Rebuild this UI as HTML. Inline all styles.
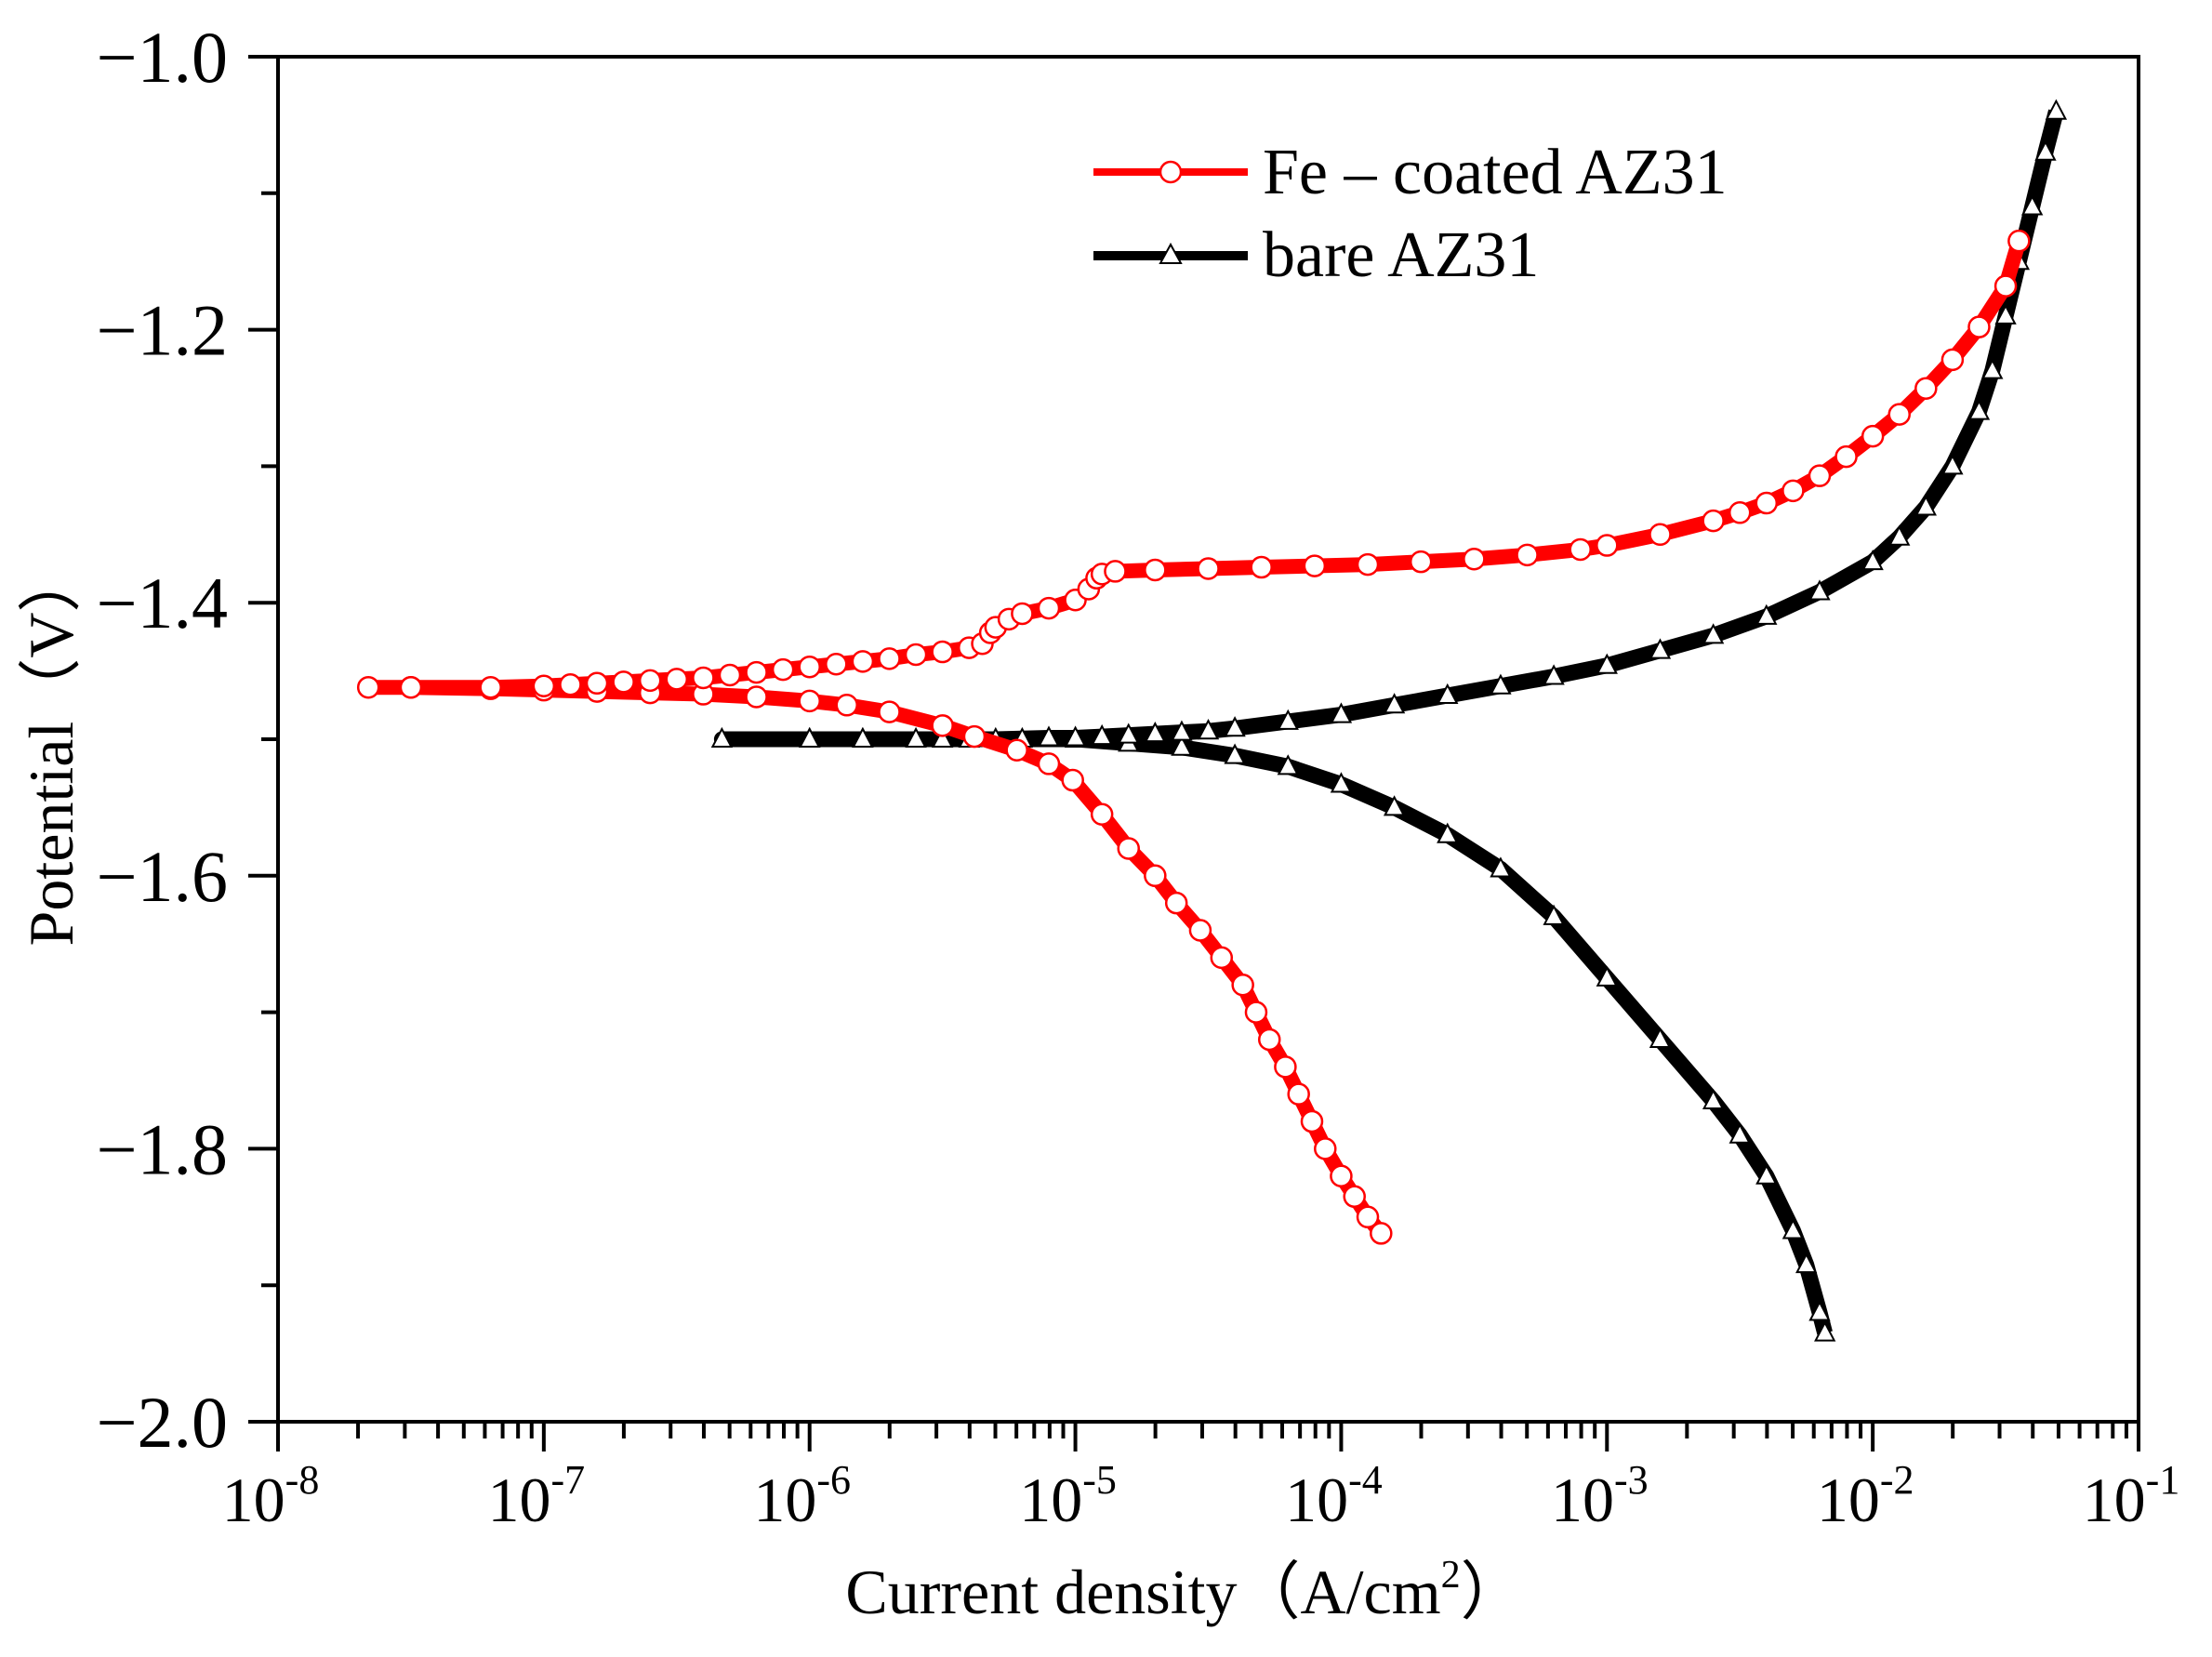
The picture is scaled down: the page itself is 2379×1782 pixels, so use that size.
<!DOCTYPE html>
<html><head><meta charset="utf-8"><style>
html,body{margin:0;padding:0;background:#fff}
svg{display:block;font-family:"Liberation Serif",serif}
</style></head><body>
<svg id="chart" width="2379" height="1782" viewBox="0 0 2379 1782" xmlns="http://www.w3.org/2000/svg">
<g id="axes"></g>
<g id="series"></g>
<g>
 <line x1="1176" y1="185" x2="1342" y2="185" stroke="#ff0000" stroke-width="8"/>
 <circle cx="1259" cy="185" r="11" fill="#fff" stroke="#ff0000" stroke-width="2.5"/>
 <text x="1358" y="208" font-size="70">Fe – coated AZ31</text>
 <line x1="1176" y1="275" x2="1342" y2="275" stroke="#000" stroke-width="10"/>
 <polygon points="1259,263 1248,283 1270,283" fill="#fff" stroke="#000" stroke-width="2"/>
 <text x="1358" y="297" font-size="70">bare AZ31</text>
</g>
<text x="1274" y="1735" font-size="68" text-anchor="middle">Current density（A/cm<tspan dy="-28" font-size="42">2</tspan><tspan dy="28">）</tspan></text>
<text transform="translate(78,804) rotate(-90)" font-size="68" text-anchor="middle">Potential（V）</text>
</svg>
<script>
// Fe-coated AZ31: [log10(current), potential]
const feLogI = [-3.85,-3.9,-3.95,-4.0,-4.06,-4.11,-4.16,-4.21,-4.27,-4.32,-4.37,-4.45,-4.53,-4.62,-4.7,-4.8,-4.9,-5.01,-5.1,-5.22,-5.38,-5.5,-5.7,-5.86,-6.0,-6.2,-6.4,-6.6,-6.8,-7.0,-7.2,-7.5,-7.66,
 -7.5,-7.2,-7.0,-6.9,-6.8,-6.7,-6.6,-6.5,-6.4,-6.3,-6.2,-6.1,-6.0,-5.9,-5.8,-5.7,-5.6,-5.5,-5.4,-5.35,-5.32,-5.3,-5.25,-5.2,-5.1,-5.0,-4.95,-4.92,-4.9,-4.85,-4.7,-4.5,-4.3,-4.1,-3.9,-3.7,-3.5,-3.3,-3.1,-3.0,-2.8,-2.6,-2.5,-2.4,-2.3,-2.2,-2.1,-2.0,-1.9,-1.8,-1.7,-1.6,-1.5,-1.45];
const feV = [-1.862,-1.85,-1.835,-1.82,-1.80,-1.78,-1.76,-1.74,-1.72,-1.70,-1.68,-1.66,-1.64,-1.62,-1.60,-1.58,-1.555,-1.53,-1.518,-1.508,-1.498,-1.49,-1.48,-1.475,-1.472,-1.469,-1.467,-1.466,-1.465,-1.464,-1.463,-1.462,-1.462,
 -1.462,-1.462,-1.461,-1.46,-1.459,-1.458,-1.457,-1.456,-1.455,-1.453,-1.451,-1.449,-1.447,-1.445,-1.443,-1.441,-1.438,-1.436,-1.433,-1.43,-1.422,-1.418,-1.412,-1.408,-1.404,-1.398,-1.39,-1.382,-1.379,-1.377,-1.376,-1.375,-1.374,-1.373,-1.372,-1.37,-1.368,-1.365,-1.361,-1.358,-1.35,-1.34,-1.334,-1.327,-1.318,-1.307,-1.293,-1.278,-1.262,-1.243,-1.222,-1.198,-1.168,-1.135,-1.115];
// bare AZ31
const bareLogI = [-2.18,-2.2,-2.25,-2.3,-2.4,-2.5,-2.6,-2.8,-3.0,-3.2,-3.4,-3.6,-3.8,-4.0,-4.2,-4.4,-4.6,-4.8,-5.0,-5.2,-5.4,-5.6,-5.8,-6.0,-6.33,
 -6.0,-5.8,-5.5,-5.3,-5.1,-5.0,-4.9,-4.8,-4.7,-4.6,-4.5,-4.4,-4.2,-4.0,-3.8,-3.6,-3.4,-3.2,-3.0,-2.8,-2.6,-2.4,-2.2,-2.0,-1.9,-1.8,-1.7,-1.6,-1.55,-1.5,-1.45,-1.4,-1.35,-1.31];
const bareV = [-1.935,-1.92,-1.885,-1.86,-1.82,-1.79,-1.765,-1.72,-1.675,-1.63,-1.595,-1.57,-1.55,-1.533,-1.52,-1.512,-1.506,-1.503,-1.5,-1.5,-1.5,-1.5,-1.5,-1.5,-1.5,
 -1.5,-1.5,-1.5,-1.5,-1.499,-1.499,-1.498,-1.497,-1.496,-1.495,-1.494,-1.492,-1.487,-1.482,-1.475,-1.468,-1.461,-1.454,-1.446,-1.435,-1.424,-1.41,-1.392,-1.37,-1.352,-1.33,-1.3,-1.26,-1.23,-1.19,-1.15,-1.11,-1.07,-1.04];
const xTickExp = [-8,-7,-6,-5,-4,-3,-2,-1];
const yTickLabels = ["−1.0","−1.2","−1.4","−1.6","−1.8","−2.0"];
const yTickValues = [-1.0,-1.2,-1.4,-1.6,-1.8,-2.0];

const L=299,R=2300,T=61,B=1529;
const xs = v => L + (v+8)/7*(R-L);
const ys = v => T + (-1.0 - v)/1.0*(B-T);
const NS="http://www.w3.org/2000/svg";
function mk(tag,attrs,parent){const e=document.createElementNS(NS,tag);for(const k in attrs)e.setAttribute(k,attrs[k]);parent.appendChild(e);return e;}
const ax=document.getElementById('axes'), se=document.getElementById('series');
let f=mk('rect',{x:L,y:T,width:R-L,height:B-T,fill:'none',stroke:'#000','stroke-width':4},ax);


xTickExp.forEach((e,i)=>{
  const x=xs(e);
  let t=mk('line',{x1:x,y1:B,x2:x,y2:B+32,stroke:'#000','stroke-width':4},ax);
  
  
  let lb=mk('text',{x:x-8,y:1636,'font-size':68,'text-anchor':'middle'},ax);
  
  
  lb.innerHTML='10<tspan dy="-30" font-size="44">-'+(-e)+'</tspan>';
  if(i<xTickExp.length-1){for(let m=2;m<=9;m++){const xm=xs(e+Math.log10(m));
    let mt=mk('line',{x1:xm,y1:B,x2:xm,y2:B+18,stroke:'#000','stroke-width':4},ax);
    
    }}
});
yTickValues.forEach((v,i)=>{
  const y=ys(v);
  let t=mk('line',{x1:L-32,y1:y,x2:L,y2:y,stroke:'#000','stroke-width':4},ax);
  
  
  let lb=mk('text',{x:245,y:y+27,'font-size':78,'text-anchor':'end'},ax);
  
  
  lb.textContent=yTickLabels[i];
  if(i<yTickValues.length-1){const ym=ys(v-0.1);
    let mt=mk('line',{x1:L-18,y1:ym,x2:L,y2:ym,stroke:'#000','stroke-width':4},ax);
    
    }
});
function pts(a,b){return a.map((v,i)=>xs(v)+','+ys(b[i])).join(' ');}
let bl=mk('polyline',{points:pts(bareLogI,bareV),fill:'none',stroke:'#000','stroke-width':17,'stroke-linejoin':'round'},se);


bareLogI.forEach((v,i)=>{const x=xs(v),y=ys(bareV[i]);
  let m=mk('polygon',{points:`${x},${y-11} ${x-10},${y+8} ${x+10},${y+8}`,fill:'#fff',stroke:'#000','stroke-width':2},se);
  
  });
let rl=mk('polyline',{points:pts(feLogI,feV),fill:'none',stroke:'#ff0000','stroke-width':16,'stroke-linejoin':'round'},se);


feLogI.forEach((v,i)=>{const x=xs(v),y=ys(feV[i]);
  let m=mk('circle',{cx:x,cy:y,r:11,fill:'#fff',stroke:'#ff0000','stroke-width':2.5},se);
  
  });
</script>
</body></html>
